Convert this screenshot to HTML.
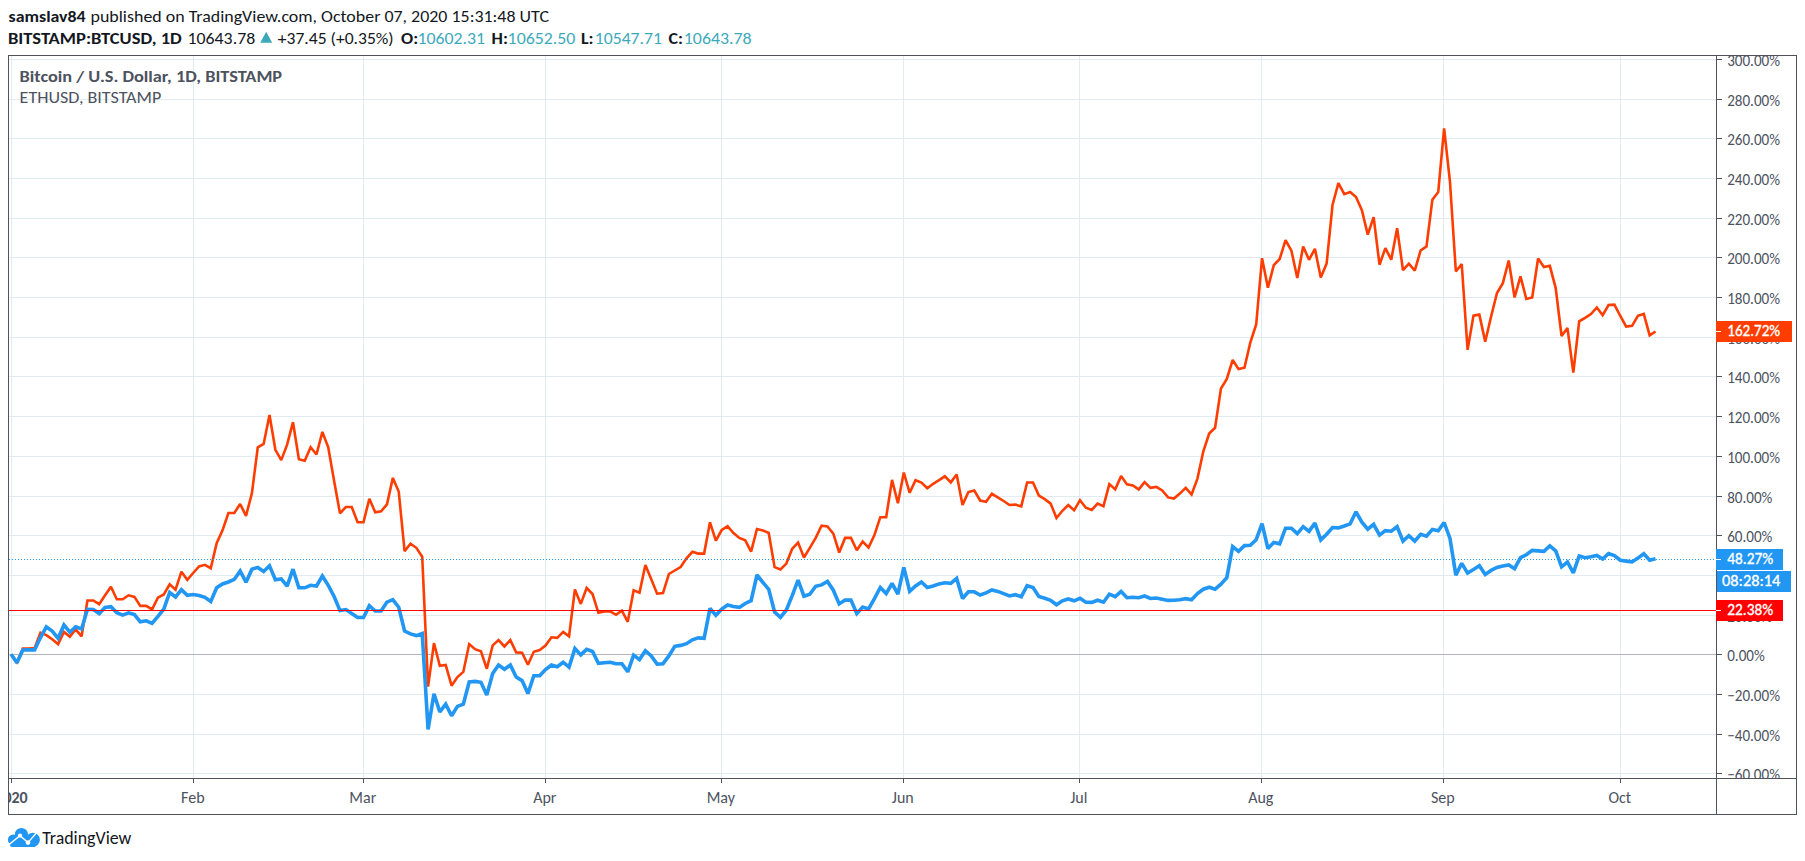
<!DOCTYPE html><html><head><meta charset="utf-8"><title>BTCUSD vs ETHUSD</title><style>html,body{margin:0;padding:0;background:#fff;overflow:hidden}svg{display:block}text{font-family:Carlito, 'Liberation Sans', Arial, sans-serif}</style></head><body>
<svg width="1805" height="861" viewBox="0 0 1805 861">
<rect width="1805" height="861" fill="#fff"/>
<text x="8.6" y="21.6" font-size="16.6" fill="#131722" font-weight="bold" textLength="77.0" lengthAdjust="spacingAndGlyphs">samslav84</text>
<text x="90.5" y="21.6" font-size="16.6" fill="#131722" textLength="458.5" lengthAdjust="spacingAndGlyphs">published on TradingView.com, October 07, 2020 15:31:48 UTC</text>
<text x="7.9" y="43.7" font-size="16.6" fill="#131722" font-weight="bold" textLength="173.9" lengthAdjust="spacingAndGlyphs">BITSTAMP:BTCUSD, 1D</text>
<text x="187.5" y="43.7" font-size="16.6" fill="#131722" textLength="67.7" lengthAdjust="spacingAndGlyphs">10643.78</text>
<polygon points="260.2,42.8 272.2,42.8 266.2,31.8" fill="#3ca9bb"/>
<text x="277.8" y="43.7" font-size="16.6" fill="#131722" textLength="115.9" lengthAdjust="spacingAndGlyphs">+37.45 (+0.35%)</text>
<text x="401.1" y="43.7" font-size="16.6" fill="#131722" font-weight="bold" textLength="17.1" lengthAdjust="spacingAndGlyphs">O:</text>
<text x="417.4" y="43.7" font-size="16.6" fill="#3ca9bb" textLength="67.5" lengthAdjust="spacingAndGlyphs">10602.31</text>
<text x="491.6" y="43.7" font-size="16.6" fill="#131722" font-weight="bold" textLength="16.3" lengthAdjust="spacingAndGlyphs">H:</text>
<text x="507.6" y="43.7" font-size="16.6" fill="#3ca9bb" textLength="67.8" lengthAdjust="spacingAndGlyphs">10652.50</text>
<text x="580.9" y="43.7" font-size="16.6" fill="#131722" font-weight="bold" textLength="12.6" lengthAdjust="spacingAndGlyphs">L:</text>
<text x="594.8" y="43.7" font-size="16.6" fill="#3ca9bb" textLength="67.1" lengthAdjust="spacingAndGlyphs">10547.71</text>
<text x="668.6" y="43.7" font-size="16.6" fill="#131722" font-weight="bold" textLength="14.5" lengthAdjust="spacingAndGlyphs">C:</text>
<text x="683.8" y="43.7" font-size="16.6" fill="#3ca9bb" textLength="67.8" lengthAdjust="spacingAndGlyphs">10643.78</text>
<g shape-rendering="crispEdges">
<line x1="11.5" y1="56" x2="11.5" y2="778" stroke="#e1ecf2" stroke-width="1"/>
<line x1="193.5" y1="56" x2="193.5" y2="778" stroke="#e1ecf2" stroke-width="1"/>
<line x1="363.5" y1="56" x2="363.5" y2="778" stroke="#e1ecf2" stroke-width="1"/>
<line x1="545.5" y1="56" x2="545.5" y2="778" stroke="#e1ecf2" stroke-width="1"/>
<line x1="721.5" y1="56" x2="721.5" y2="778" stroke="#e1ecf2" stroke-width="1"/>
<line x1="903.5" y1="56" x2="903.5" y2="778" stroke="#e1ecf2" stroke-width="1"/>
<line x1="1079.5" y1="56" x2="1079.5" y2="778" stroke="#e1ecf2" stroke-width="1"/>
<line x1="1261.5" y1="56" x2="1261.5" y2="778" stroke="#e1ecf2" stroke-width="1"/>
<line x1="1443.5" y1="56" x2="1443.5" y2="778" stroke="#e1ecf2" stroke-width="1"/>
<line x1="1620.5" y1="56" x2="1620.5" y2="778" stroke="#e1ecf2" stroke-width="1"/>
<line x1="9" y1="59.5" x2="1716" y2="59.5" stroke="#e1ecf2" stroke-width="1"/>
<line x1="9" y1="99.5" x2="1716" y2="99.5" stroke="#e1ecf2" stroke-width="1"/>
<line x1="9" y1="138.5" x2="1716" y2="138.5" stroke="#e1ecf2" stroke-width="1"/>
<line x1="9" y1="178.5" x2="1716" y2="178.5" stroke="#e1ecf2" stroke-width="1"/>
<line x1="9" y1="218.5" x2="1716" y2="218.5" stroke="#e1ecf2" stroke-width="1"/>
<line x1="9" y1="257.5" x2="1716" y2="257.5" stroke="#e1ecf2" stroke-width="1"/>
<line x1="9" y1="297.5" x2="1716" y2="297.5" stroke="#e1ecf2" stroke-width="1"/>
<line x1="9" y1="337.5" x2="1716" y2="337.5" stroke="#e1ecf2" stroke-width="1"/>
<line x1="9" y1="376.5" x2="1716" y2="376.5" stroke="#e1ecf2" stroke-width="1"/>
<line x1="9" y1="416.5" x2="1716" y2="416.5" stroke="#e1ecf2" stroke-width="1"/>
<line x1="9" y1="456.5" x2="1716" y2="456.5" stroke="#e1ecf2" stroke-width="1"/>
<line x1="9" y1="496.5" x2="1716" y2="496.5" stroke="#e1ecf2" stroke-width="1"/>
<line x1="9" y1="535.5" x2="1716" y2="535.5" stroke="#e1ecf2" stroke-width="1"/>
<line x1="9" y1="575.5" x2="1716" y2="575.5" stroke="#e1ecf2" stroke-width="1"/>
<line x1="9" y1="615.5" x2="1716" y2="615.5" stroke="#e1ecf2" stroke-width="1"/>
<line x1="9" y1="694.5" x2="1716" y2="694.5" stroke="#e1ecf2" stroke-width="1"/>
<line x1="9" y1="734.5" x2="1716" y2="734.5" stroke="#e1ecf2" stroke-width="1"/>
<line x1="9" y1="773.5" x2="1716" y2="773.5" stroke="#e1ecf2" stroke-width="1"/>
</g>
<line x1="9" y1="654.5" x2="1716" y2="654.5" stroke="#b2b5be" stroke-width="1" shape-rendering="crispEdges"/>
<text x="19.6" y="81.9" font-size="16.6" fill="#4c525e" font-weight="bold" textLength="262.5" lengthAdjust="spacingAndGlyphs">Bitcoin / U.S. Dollar, 1D, BITSTAMP</text>
<text x="19.6" y="102.6" font-size="16.6" fill="#4c525e" textLength="141.7" lengthAdjust="spacingAndGlyphs">ETHUSD, BITSTAMP</text>
<svg x="9" y="56" width="1707" height="722" viewBox="9 56 1707 722" overflow="hidden">
<polyline points="11.10,654.50 16.97,662.30 22.85,648.60 28.72,648.60 34.59,648.10 40.47,632.70 46.34,635.10 52.21,639.20 58.08,644.10 63.96,631.90 69.83,636.70 75.70,629.40 81.58,636.40 87.45,600.50 93.32,600.50 99.19,604.20 105.07,595.30 110.94,586.70 116.81,599.30 122.69,599.30 128.56,595.30 134.43,596.90 140.31,605.90 146.18,605.90 152.05,609.40 157.93,597.70 163.80,594.50 169.67,584.40 175.54,589.60 181.42,571.70 187.29,579.80 193.16,573.00 199.04,566.50 204.91,564.80 210.78,568.20 216.66,543.10 222.53,530.30 228.40,513.00 234.27,513.00 240.15,504.00 246.02,515.80 251.89,493.30 257.77,447.30 263.64,444.00 269.51,415.00 275.39,449.80 281.26,460.10 287.13,444.70 293.00,422.20 298.88,459.30 304.75,460.80 310.62,447.20 316.50,454.50 322.37,431.90 328.24,447.30 334.12,481.00 339.99,513.30 345.86,507.00 351.73,507.00 357.61,522.20 363.48,522.20 369.35,498.70 375.23,512.30 381.10,511.30 386.97,504.40 392.85,477.90 398.72,491.60 404.59,551.20 410.46,543.70 416.34,547.80 422.21,556.70 428.08,686.60 433.96,643.20 439.83,665.80 445.70,664.90 451.58,685.70 457.45,677.10 463.32,671.90 469.19,644.10 475.07,649.20 480.94,651.30 486.81,668.80 492.69,645.40 498.56,640.10 504.43,646.50 510.31,640.10 516.18,652.40 522.05,652.70 527.92,664.80 533.80,651.80 539.67,650.10 545.54,645.50 551.42,637.30 557.29,637.90 563.16,631.90 569.04,636.30 574.91,589.40 580.78,603.90 586.65,588.00 592.53,594.00 598.40,612.80 604.27,611.40 610.15,611.40 616.02,614.80 621.89,610.60 627.77,621.80 633.64,590.20 639.51,592.60 645.38,565.00 651.26,579.20 657.13,593.70 663.00,593.10 668.88,574.00 674.75,570.50 680.62,567.00 686.50,558.30 692.37,551.80 698.24,553.60 704.11,553.60 709.99,522.30 715.86,540.70 721.73,530.00 727.61,526.30 733.48,533.00 739.35,537.90 745.23,540.30 751.10,551.60 756.97,529.00 762.84,530.40 768.72,533.00 774.59,567.10 780.46,569.50 786.34,563.60 792.21,548.80 798.08,542.60 803.96,557.50 809.83,547.80 815.70,537.90 821.57,525.70 827.45,526.50 833.32,533.60 839.19,552.50 845.07,537.90 850.94,537.90 856.81,550.20 862.69,541.50 868.56,547.60 874.43,535.00 880.30,517.20 886.18,517.20 892.05,479.90 897.92,503.20 903.80,472.50 909.67,492.80 915.54,480.20 921.42,482.50 927.29,488.20 933.16,483.80 939.03,480.20 944.91,476.30 950.78,482.40 956.65,474.50 962.53,504.90 968.40,492.00 974.27,490.60 980.15,500.50 986.02,501.80 991.89,493.80 997.76,497.40 1003.64,501.00 1009.51,505.00 1015.38,504.60 1021.26,506.40 1027.13,482.50 1033.00,482.50 1038.88,495.60 1044.75,499.20 1050.62,503.60 1056.49,518.00 1062.37,510.80 1068.24,505.10 1074.11,510.30 1079.99,500.20 1085.86,507.70 1091.73,510.00 1097.61,503.60 1103.48,506.10 1109.35,484.10 1115.22,489.40 1121.10,476.10 1126.97,484.40 1132.84,485.40 1138.72,489.40 1144.59,482.10 1150.46,487.90 1156.34,486.90 1162.21,490.40 1168.08,497.40 1173.95,498.60 1179.83,493.60 1185.70,487.80 1191.57,494.40 1197.45,478.60 1203.32,451.30 1209.19,433.50 1215.07,427.80 1220.94,388.60 1226.81,378.90 1232.68,360.00 1238.56,369.10 1244.43,367.70 1250.30,342.60 1256.18,324.50 1262.05,258.20 1267.92,287.70 1273.79,265.20 1279.67,259.00 1285.54,240.10 1291.41,250.70 1297.29,277.90 1303.16,246.50 1309.03,259.80 1314.91,248.80 1320.78,277.60 1326.65,263.40 1332.52,204.90 1338.40,183.20 1344.27,194.10 1350.14,192.00 1356.02,197.00 1361.89,210.20 1367.76,234.60 1373.64,217.10 1379.51,264.70 1385.38,248.10 1391.25,259.70 1397.13,228.20 1403.00,270.20 1408.87,263.70 1414.75,270.60 1420.62,250.50 1426.49,246.40 1432.37,199.70 1438.24,192.00 1444.11,128.40 1449.98,181.90 1455.86,271.50 1461.73,264.00 1467.60,349.90 1473.48,315.70 1479.35,314.60 1485.22,341.70 1491.10,316.50 1496.97,293.00 1502.84,283.20 1508.71,260.50 1514.59,297.50 1520.46,276.40 1526.33,299.00 1532.21,297.40 1538.08,258.50 1543.95,267.00 1549.83,265.80 1555.70,288.10 1561.57,336.00 1567.44,327.90 1573.32,372.60 1579.19,321.40 1585.06,317.80 1590.94,314.00 1596.81,307.50 1602.68,315.20 1608.56,305.00 1614.43,304.60 1620.30,316.00 1626.17,326.60 1632.05,325.90 1637.92,315.80 1643.79,314.00 1649.67,335.40 1655.54,331.50" fill="none" stroke="#ff3d00" stroke-width="2.6" stroke-linejoin="miter" stroke-miterlimit="2" stroke-linecap="butt"/>
<polyline points="11.10,654.30 16.97,662.80 22.85,650.00 28.72,649.80 34.59,650.00 40.47,637.60 46.34,626.90 52.21,631.00 58.08,638.30 63.96,625.00 69.83,632.20 75.70,626.80 81.58,629.00 87.45,609.30 93.32,609.50 99.19,613.60 105.07,607.50 110.94,606.70 116.81,612.80 122.69,615.10 128.56,612.80 134.43,614.50 140.31,621.80 146.18,620.80 152.05,623.30 157.93,616.40 163.80,609.10 169.67,592.50 175.54,596.90 181.42,589.60 187.29,595.30 193.16,594.50 199.04,595.50 204.91,597.30 210.78,601.40 216.66,587.80 222.53,584.00 228.40,582.00 234.27,579.40 240.15,570.90 246.02,582.20 251.89,569.20 257.77,567.40 263.64,571.50 269.51,565.80 275.39,579.70 281.26,578.90 287.13,586.10 293.00,569.20 298.88,587.80 304.75,587.80 310.62,585.30 316.50,586.00 322.37,576.00 328.24,585.30 334.12,596.50 339.99,610.60 345.86,609.60 351.73,613.50 357.61,617.50 363.48,617.50 369.35,605.60 375.23,611.00 381.10,611.00 386.97,602.10 392.85,599.70 398.72,607.20 404.59,631.00 410.46,633.90 416.34,635.60 422.21,633.50 428.08,729.50 433.96,693.70 439.83,711.90 445.70,704.20 451.58,715.80 457.45,706.40 463.32,704.10 469.19,682.00 475.07,681.40 480.94,682.30 486.81,695.00 492.69,673.60 498.56,665.00 504.43,669.20 510.31,665.00 516.18,677.10 522.05,680.60 527.92,693.60 533.80,675.70 539.67,675.70 545.54,669.50 551.42,665.00 557.29,666.70 563.16,662.20 569.04,667.10 574.91,648.60 580.78,654.90 586.65,649.40 592.53,651.50 598.40,663.40 604.27,662.80 610.15,662.30 616.02,663.70 621.89,663.70 627.77,671.80 633.64,655.10 639.51,659.60 645.38,650.70 651.26,655.90 657.13,664.10 663.00,663.70 668.88,655.90 674.75,646.30 680.62,645.40 686.50,643.70 692.37,639.80 698.24,637.90 704.11,638.40 709.99,608.40 715.86,615.30 721.73,609.00 727.61,605.00 733.48,606.60 739.35,607.40 745.23,603.50 751.10,600.70 756.97,575.00 762.84,582.30 768.72,589.30 774.59,612.00 780.46,617.30 786.34,610.00 792.21,595.60 798.08,580.20 803.96,596.20 809.83,594.20 815.70,586.30 821.57,584.90 827.45,581.50 833.32,590.20 839.19,603.90 845.07,600.10 850.94,600.10 856.81,613.40 862.69,607.00 868.56,609.00 874.43,598.70 880.30,587.50 886.18,593.60 892.05,583.50 897.92,594.00 903.80,567.40 909.67,591.30 915.54,586.00 921.42,582.00 927.29,587.50 933.16,586.00 939.03,583.90 944.91,582.80 950.78,583.30 956.65,578.40 962.53,598.50 968.40,591.80 974.27,591.80 980.15,595.00 986.02,592.90 991.89,590.00 997.76,591.40 1003.64,593.60 1009.51,595.90 1015.38,594.70 1021.26,596.80 1027.13,585.70 1033.00,587.50 1038.88,596.50 1044.75,598.30 1050.62,600.40 1056.49,604.80 1062.37,600.80 1068.24,599.00 1074.11,600.80 1079.99,598.30 1085.86,602.20 1091.73,602.40 1097.61,600.20 1103.48,602.20 1109.35,594.20 1115.22,596.70 1121.10,591.40 1126.97,597.70 1132.84,597.20 1138.72,597.70 1144.59,596.00 1150.46,598.50 1156.34,598.00 1162.21,599.20 1168.08,600.40 1173.95,600.20 1179.83,599.70 1185.70,598.70 1191.57,599.70 1197.45,593.50 1203.32,589.20 1209.19,587.20 1215.07,589.20 1220.94,584.20 1226.81,577.70 1232.68,546.50 1238.56,551.30 1244.43,545.60 1250.30,545.20 1256.18,539.70 1262.05,523.70 1267.92,548.50 1273.79,542.50 1279.67,543.80 1285.54,528.20 1291.41,528.20 1297.29,533.60 1303.16,526.70 1309.03,531.40 1314.91,523.10 1320.78,539.90 1326.65,534.30 1332.52,527.50 1338.40,527.90 1344.27,526.00 1350.14,523.90 1356.02,511.80 1361.89,522.10 1367.76,529.20 1373.64,524.30 1379.51,535.10 1385.38,530.60 1391.25,531.20 1397.13,526.70 1403.00,541.10 1408.87,535.60 1414.75,541.10 1420.62,534.30 1426.49,536.10 1432.37,529.40 1438.24,530.80 1444.11,522.50 1449.98,538.50 1455.86,575.10 1461.73,563.30 1467.60,573.10 1473.48,569.50 1479.35,565.80 1485.22,574.40 1491.10,570.40 1496.97,567.50 1502.84,566.00 1508.71,565.00 1514.59,568.70 1520.46,557.70 1526.33,554.80 1532.21,550.40 1538.08,550.90 1543.95,551.30 1549.83,545.80 1555.70,550.90 1561.57,566.80 1567.44,562.00 1573.32,572.90 1579.19,556.00 1585.06,557.70 1590.94,556.80 1596.81,555.50 1602.68,559.10 1608.56,553.50 1614.43,555.50 1620.30,560.20 1626.17,561.10 1632.05,561.90 1637.92,558.10 1643.79,553.70 1649.67,560.20 1655.54,558.70" fill="none" stroke="#2196f3" stroke-width="3.6" stroke-linejoin="miter" stroke-miterlimit="2" stroke-linecap="butt"/>
</svg>
<line x1="9" y1="610.5" x2="1716" y2="610.5" stroke="#ff0000" stroke-width="1" shape-rendering="crispEdges"/>
<line x1="9" y1="559.5" x2="1716" y2="559.5" stroke="#2196f3" stroke-width="1" stroke-dasharray="1 2" shape-rendering="crispEdges"/>
<g shape-rendering="crispEdges" stroke="#50535e" stroke-width="1" fill="none">
<rect x="8.5" y="55.5" width="1788" height="759"/>
<line x1="1716.5" y1="55" x2="1716.5" y2="815"/>
<line x1="8" y1="778.5" x2="1797" y2="778.5"/>
<line x1="1717" y1="59.5" x2="1722" y2="59.5"/>
<line x1="1717" y1="99.5" x2="1722" y2="99.5"/>
<line x1="1717" y1="138.5" x2="1722" y2="138.5"/>
<line x1="1717" y1="178.5" x2="1722" y2="178.5"/>
<line x1="1717" y1="218.5" x2="1722" y2="218.5"/>
<line x1="1717" y1="257.5" x2="1722" y2="257.5"/>
<line x1="1717" y1="297.5" x2="1722" y2="297.5"/>
<line x1="1717" y1="337.5" x2="1722" y2="337.5"/>
<line x1="1717" y1="376.5" x2="1722" y2="376.5"/>
<line x1="1717" y1="416.5" x2="1722" y2="416.5"/>
<line x1="1717" y1="456.5" x2="1722" y2="456.5"/>
<line x1="1717" y1="496.5" x2="1722" y2="496.5"/>
<line x1="1717" y1="535.5" x2="1722" y2="535.5"/>
<line x1="1717" y1="575.5" x2="1722" y2="575.5"/>
<line x1="1717" y1="615.5" x2="1722" y2="615.5"/>
<line x1="1717" y1="654.5" x2="1722" y2="654.5"/>
<line x1="1717" y1="694.5" x2="1722" y2="694.5"/>
<line x1="1717" y1="734.5" x2="1722" y2="734.5"/>
<line x1="1717" y1="773.5" x2="1722" y2="773.5"/>
<line x1="11.5" y1="779" x2="11.5" y2="783"/>
<line x1="193.5" y1="779" x2="193.5" y2="783"/>
<line x1="363.5" y1="779" x2="363.5" y2="783"/>
<line x1="545.5" y1="779" x2="545.5" y2="783"/>
<line x1="721.5" y1="779" x2="721.5" y2="783"/>
<line x1="903.5" y1="779" x2="903.5" y2="783"/>
<line x1="1079.5" y1="779" x2="1079.5" y2="783"/>
<line x1="1261.5" y1="779" x2="1261.5" y2="783"/>
<line x1="1443.5" y1="779" x2="1443.5" y2="783"/>
<line x1="1620.5" y1="779" x2="1620.5" y2="783"/>
</g>
<svg x="1717" y="56" width="79" height="722" viewBox="1717 56 79 722" overflow="hidden">
<text x="1727.2" y="65.8" font-size="16" fill="#4c525e" textLength="52.8" lengthAdjust="spacingAndGlyphs">300.00%</text>
<text x="1727.2" y="105.8" font-size="16" fill="#4c525e" textLength="52.8" lengthAdjust="spacingAndGlyphs">280.00%</text>
<text x="1727.2" y="144.8" font-size="16" fill="#4c525e" textLength="52.8" lengthAdjust="spacingAndGlyphs">260.00%</text>
<text x="1727.2" y="184.8" font-size="16" fill="#4c525e" textLength="52.8" lengthAdjust="spacingAndGlyphs">240.00%</text>
<text x="1727.2" y="224.8" font-size="16" fill="#4c525e" textLength="52.8" lengthAdjust="spacingAndGlyphs">220.00%</text>
<text x="1727.2" y="263.8" font-size="16" fill="#4c525e" textLength="52.8" lengthAdjust="spacingAndGlyphs">200.00%</text>
<text x="1727.2" y="303.8" font-size="16" fill="#4c525e" textLength="52.8" lengthAdjust="spacingAndGlyphs">180.00%</text>
<text x="1727.2" y="343.8" font-size="16" fill="#4c525e" textLength="52.8" lengthAdjust="spacingAndGlyphs">160.00%</text>
<text x="1727.2" y="382.8" font-size="16" fill="#4c525e" textLength="52.8" lengthAdjust="spacingAndGlyphs">140.00%</text>
<text x="1727.2" y="422.8" font-size="16" fill="#4c525e" textLength="52.8" lengthAdjust="spacingAndGlyphs">120.00%</text>
<text x="1727.2" y="462.8" font-size="16" fill="#4c525e" textLength="52.8" lengthAdjust="spacingAndGlyphs">100.00%</text>
<text x="1727.2" y="502.8" font-size="16" fill="#4c525e" textLength="45.2" lengthAdjust="spacingAndGlyphs">80.00%</text>
<text x="1727.2" y="541.8" font-size="16" fill="#4c525e" textLength="45.2" lengthAdjust="spacingAndGlyphs">60.00%</text>
<text x="1727.2" y="581.8" font-size="16" fill="#4c525e" textLength="45.2" lengthAdjust="spacingAndGlyphs">40.00%</text>
<text x="1727.2" y="621.8" font-size="16" fill="#4c525e" textLength="45.2" lengthAdjust="spacingAndGlyphs">20.00%</text>
<text x="1727.2" y="660.8" font-size="16" fill="#4c525e" textLength="37.5" lengthAdjust="spacingAndGlyphs">0.00%</text>
<text x="1727.2" y="700.8" font-size="16" fill="#4c525e" textLength="52.8" lengthAdjust="spacingAndGlyphs">−20.00%</text>
<text x="1727.2" y="740.8" font-size="16" fill="#4c525e" textLength="52.8" lengthAdjust="spacingAndGlyphs">−40.00%</text>
<text x="1727.2" y="779.8" font-size="16" fill="#4c525e" textLength="52.8" lengthAdjust="spacingAndGlyphs">−60.00%</text>
</svg>
<svg x="9" y="779" width="1707" height="35" viewBox="9 779 1707 35" overflow="hidden">
<text x="11.5" y="802.7" font-size="16" fill="#4c525e" font-weight="bold" text-anchor="middle" textLength="32.4" lengthAdjust="spacingAndGlyphs">2020</text>
<text x="192.8" y="802.7" font-size="16" fill="#4c525e" text-anchor="middle" textLength="23.5" lengthAdjust="spacingAndGlyphs">Feb</text>
<text x="362.8" y="802.7" font-size="16" fill="#4c525e" text-anchor="middle" textLength="26.9" lengthAdjust="spacingAndGlyphs">Mar</text>
<text x="544.8" y="802.7" font-size="16" fill="#4c525e" text-anchor="middle" textLength="23.2" lengthAdjust="spacingAndGlyphs">Apr</text>
<text x="720.8" y="802.7" font-size="16" fill="#4c525e" text-anchor="middle" textLength="28.3" lengthAdjust="spacingAndGlyphs">May</text>
<text x="902.8" y="802.7" font-size="16" fill="#4c525e" text-anchor="middle" textLength="21.9" lengthAdjust="spacingAndGlyphs">Jun</text>
<text x="1078.8" y="802.7" font-size="16" fill="#4c525e" text-anchor="middle" textLength="17.2" lengthAdjust="spacingAndGlyphs">Jul</text>
<text x="1260.8" y="802.7" font-size="16" fill="#4c525e" text-anchor="middle" textLength="25.2" lengthAdjust="spacingAndGlyphs">Aug</text>
<text x="1442.8" y="802.7" font-size="16" fill="#4c525e" text-anchor="middle" textLength="23.7" lengthAdjust="spacingAndGlyphs">Sep</text>
<text x="1619.8" y="802.7" font-size="16" fill="#4c525e" text-anchor="middle" textLength="22.7" lengthAdjust="spacingAndGlyphs">Oct</text>
</svg>
<rect x="1716" y="321" width="76" height="21" fill="#ff3d00"/>
<line x1="1716" y1="331.5" x2="1721" y2="331.5" stroke="#fff" stroke-width="1" shape-rendering="crispEdges"/>
<text x="1727.3" y="335.8" font-size="16" fill="#fff" textLength="52.8" lengthAdjust="spacingAndGlyphs" stroke="#fff" stroke-width="0.35">162.72%</text>
<rect x="1716" y="549" width="67" height="21" fill="#2196f3"/>
<line x1="1716" y1="559.5" x2="1721" y2="559.5" stroke="#fff" stroke-width="1" shape-rendering="crispEdges"/>
<text x="1727.3" y="563.8" font-size="16" fill="#fff" textLength="45.8" lengthAdjust="spacingAndGlyphs" stroke="#fff" stroke-width="0.35">48.27%</text>
<rect x="1717" y="571" width="74" height="21" fill="#2196f3"/>
<text x="1722.0" y="585.8" font-size="16" fill="#fff" textLength="58.4" lengthAdjust="spacingAndGlyphs" stroke="#fff" stroke-width="0.35">08:28:14</text>
<rect x="1716" y="600" width="67" height="21" fill="#ff0000"/>
<line x1="1716" y1="610.5" x2="1721" y2="610.5" stroke="#fff" stroke-width="1" shape-rendering="crispEdges"/>
<text x="1727.3" y="614.8" font-size="16" fill="#fff" textLength="45.8" lengthAdjust="spacingAndGlyphs" stroke="#fff" stroke-width="0.35">22.38%</text>
<g fill="#2196f3">
<circle cx="13.1" cy="839.8" r="5.2"/><circle cx="21.4" cy="834.5" r="6.6"/><circle cx="32.9" cy="839.8" r="7"/>
<rect x="10" y="836" width="26" height="10.9" rx="2"/>
</g>
<g fill="#fff" stroke="#fff"><polyline points="6,847 20,835.6 28,842.6 38,831" fill="none" stroke-width="1.4"/><circle cx="20" cy="835.6" r="2.1" stroke="none"/><circle cx="28" cy="842.6" r="2.3" stroke="none"/></g>
<text x="42.2" y="843.9" font-size="18" fill="#131722" textLength="89.2" lengthAdjust="spacingAndGlyphs">TradingView</text>
</svg></body></html>
